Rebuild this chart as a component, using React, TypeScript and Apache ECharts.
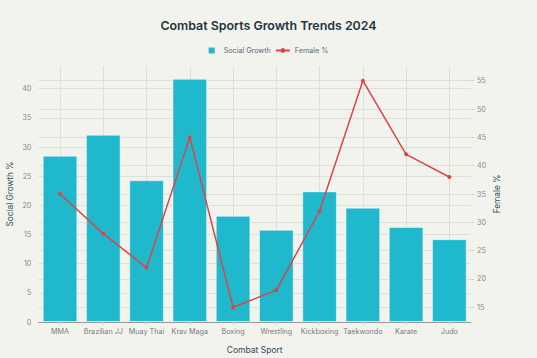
import React, { useEffect, useRef } from "react";
import * as echarts from "echarts";

const categories = ["MMA", "Brazilian JJ", "Muay Thai", "Krav Maga", "Boxing", "Wrestling", "Kickboxing", "Taekwondo", "Karate", "Judo"];
const socialGrowth = [28.5, 32.1, 24.3, 41.7, 18.2, 15.8, 22.4, 19.6, 16.3, 14.2];
const femalePct = [35, 28, 22, 45, 15, 18, 32, 55, 42, 38];

const FONT = "Inter, 'Noto Sans', sans-serif";

export default function App() {
  const ref = useRef<HTMLDivElement>(null);
  useEffect(() => {
    if (!ref.current) return;
    const chart = echarts.init(ref.current, undefined, { renderer: "svg" });
    const gridColor = "#dfdfd9";
    chart.setOption({
      animation: false,
      backgroundColor: "#F3F3EE",
      textStyle: { fontFamily: FONT },
      title: {
        text: "Combat Sports Growth Trends 2024",
        left: "center",
        top: 14,
        textStyle: { fontFamily: FONT, fontSize: 12.4, fontWeight: 600, color: "#1d3640" },
      },
      legend: {
        top: 42,
        left: "center",
        itemWidth: 14,
        itemHeight: 6,
        itemGap: 4,
        textStyle: { fontFamily: FONT, fontSize: 7.2, color: "#5a6a70" },
        data: [
          { name: "Social Growth", icon: "path://M0,0h6v6h-6z", itemStyle: { borderWidth: 0 } },
          { name: "Female %" },
        ],
      },
      grid: { left: 38.4, right: 66, top: 66, bottom: 36, containLabel: false, outerBoundsMode: "none" },
      xAxis: [
        {
          type: "category",
          data: categories,
          name: "Combat Sport",
          nameLocation: "middle",
          nameGap: 23,
          nameMoveOverlap: false,
          nameTextStyle: { fontFamily: FONT, fontSize: 8.5, color: "#2f4a55" },
          axisLine: { lineStyle: { color: "#9a9a9a", width: 1 } },
          axisTick: { show: true, alignWithLabel: true, length: 3, lineStyle: { color: "#cfcfc9" } },
          axisLabel: { fontFamily: FONT, fontSize: 7.2, color: "#7a7a7a", margin: 6, interval: 0 },
          splitLine: { show: false },
        },
        {
          type: "value",
          min: -0.5,
          max: 9.5,
          splitNumber: 10,
          position: "bottom",
          axisLine: { show: false },
          axisTick: { show: false },
          axisLabel: { show: false },
          splitLine: { show: true, showMinLine: false, showMaxLine: false, lineStyle: { color: gridColor, width: 1 } },
        },
      ],
      yAxis: [
        {
          type: "value",
          min: 0,
          max: 43.9,
          splitNumber: 8,
          name: "Social Growth %",
          nameLocation: "middle",
          nameGap: 24,
          nameMoveOverlap: false,
          nameTextStyle: { fontFamily: FONT, fontSize: 8.3, color: "#2f4a55" },
          axisLine: { show: false },
          axisTick: { show: false },
          axisLabel: { fontFamily: FONT, fontSize: 7.2, color: "#888", margin: 7, showMaxLabel: false },
          splitLine: { show: true, showMaxLine: false, lineStyle: { color: gridColor, width: 1 } },
        },
        {
          type: "value",
          min: 12.4,
          max: 57.6,
          splitNumber: 9,
          name: "Female %",
          nameLocation: "middle",
          nameGap: 22,
          nameMoveOverlap: false,
          nameTextStyle: { fontFamily: FONT, fontSize: 8.3, color: "#2f4a55" },
          axisLine: { show: false },
          axisTick: { show: true, length: 3, lineStyle: { color: "#cfcfc9" } },
          axisLabel: { fontFamily: FONT, fontSize: 7.2, color: "#888", margin: 6, showMinLabel: false, showMaxLabel: false },
          splitLine: { show: true, showMinLine: false, showMaxLine: false, lineStyle: { color: gridColor, width: 1 } },
        },
      ],
      series: [
        {
          name: "Social Growth",
          type: "bar",
          xAxisIndex: 0,
          yAxisIndex: 0,
          data: socialGrowth,
          barCategoryGap: "20%",
          itemStyle: { color: "#1FB8CD", borderColor: "rgba(255,255,255,0.45)", borderWidth: 1 },
          z: 2,
        },
        {
          name: "Female %",
          type: "line",
          xAxisIndex: 0,
          yAxisIndex: 1,
          data: femalePct,
          symbol: "circle",
          symbolSize: 4,
          lineStyle: { color: "#DB4545", width: 1.5 },
          itemStyle: { color: "#DB4545" },
          z: 3,
        },
      ],
    });
    return () => chart.dispose();
  }, []);
  return <div ref={ref} style={{ width: 537, height: 358, position: "absolute", left: 0, top: 0 }} />;
}
